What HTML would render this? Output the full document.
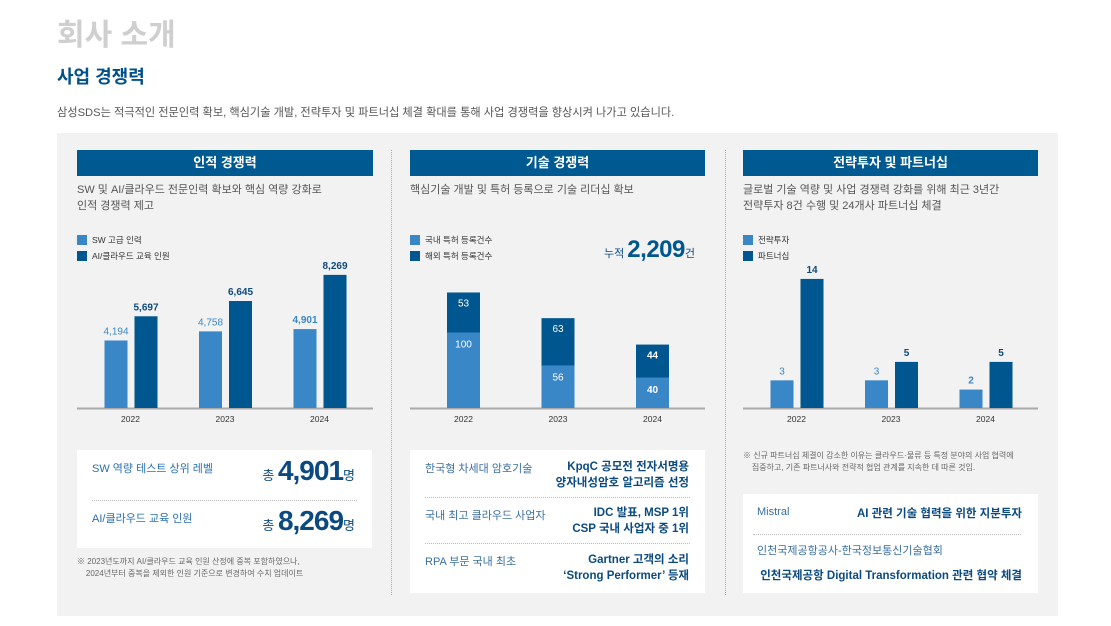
<!DOCTYPE html>
<html lang="ko"><head><meta charset="utf-8">
<style>
body{margin:0;width:1111px;height:626px;background:#fff;position:relative;overflow:hidden;font-family:"Liberation Sans","Noto Sans CJK KR",sans-serif;}
.a{position:absolute;white-space:nowrap;}
.hdr{position:absolute;top:150px;height:26px;background:#005a92;color:#fff;font-weight:bold;font-size:13px;line-height:26px;text-align:center;}
.sub{font-size:11px;color:#555;line-height:16px;}
.lg{font-size:8.5px;color:#333;}
.sq{position:absolute;width:10px;height:10px;}
.box{position:absolute;background:#fff;}
.lbl{font-size:11px;color:#2a6fb0;}
.val{font-size:11.5px;color:#0b4a80;font-weight:bold;text-align:right;line-height:16px;}
.dot{position:absolute;height:0;border-top:1px dotted #bbb;}
.note{font-size:8px;color:#666;line-height:12px;}
</style></head><body>
<div class="a" style="left:57px;top:10px;font-size:30px;font-weight:bold;color:#cfcfcf;">회사 소개</div>
<div class="a" style="left:57px;top:63px;font-size:18px;font-weight:bold;color:#00508a;">사업 경쟁력</div>
<div class="a" style="left:57px;top:104px;font-size:11.2px;color:#555;">삼성SDS는 적극적인 전문인력 확보, 핵심기술 개발, 전략투자 및 파트너십 체결 확대를 통해 사업 경쟁력을 향상시켜 나가고 있습니다.</div>
<div class="a" style="left:57px;top:133px;width:1001px;height:483px;background:#f2f2f2;"></div>
<div class="a" style="left:391px;top:150px;height:445px;border-left:1px dotted #aaa;"></div>
<div class="a" style="left:725px;top:150px;height:445px;border-left:1px dotted #aaa;"></div>

<div class="hdr" style="left:77px;width:296px;">인적 경쟁력</div>
<div class="hdr" style="left:410px;width:295px;">기술 경쟁력</div>
<div class="hdr" style="left:743px;width:295px;">전략투자 및 파트너십</div>

<div class="a sub" style="left:77px;top:182px;">SW 및 AI/클라우드 전문인력 확보와 핵심 역량 강화로<br>인적 경쟁력 제고</div>
<div class="a sub" style="left:410px;top:182px;">핵심기술 개발 및 특허 등록으로 기술 리더십 확보</div>
<div class="a sub" style="left:743px;top:182px;">글로벌 기술 역량 및 사업 경쟁력 강화를 위해 최근 3년간<br>전략투자 8건 수행 및 24개사 파트너십 체결</div>

<div class="sq" style="left:77px;top:235px;background:#3a87c8"></div><div class="a lg" style="left:92px;top:234px;">SW 고급 인력</div>
<div class="sq" style="left:77px;top:251px;background:#00568f"></div><div class="a lg" style="left:92px;top:250px;">AI/클라우드 교육 인원</div>
<div class="sq" style="left:410px;top:235px;background:#3a87c8"></div><div class="a lg" style="left:425px;top:234px;">국내 특허 등록건수</div>
<div class="sq" style="left:410px;top:251px;background:#00568f"></div><div class="a lg" style="left:425px;top:250px;">해외 특허 등록건수</div>
<div class="sq" style="left:743px;top:235px;background:#3a87c8"></div><div class="a lg" style="left:758px;top:234px;">전략투자</div>
<div class="sq" style="left:743px;top:251px;background:#00568f"></div><div class="a lg" style="left:758px;top:250px;">파트너십</div>
<div class="a" style="left:604px;top:236px;color:#0b4a80;font-size:11px;">누적 <b style="font-size:24px;color:#00568f;letter-spacing:-0.5px;">2,209</b>건</div>

<svg id="charts" class="a" style="left:0;top:0" width="1111" height="626"></svg>

<div class="box" style="left:77px;top:450px;width:295px;height:98px;">
 <div class="a lbl" style="left:15px;top:10px;">SW 역량 테스트 상위 레벨</div>
 <div class="a" style="right:17px;top:5px;color:#0b4a80;font-size:13px;">총 <b style="font-size:28px;letter-spacing:-1px;">4,901</b>명</div>
 <div class="dot" style="left:15px;width:265px;top:50px;"></div>
 <div class="a lbl" style="left:15px;top:60px;">AI/클라우드 교육 인원</div>
 <div class="a" style="right:17px;top:55px;color:#0b4a80;font-size:13px;">총 <b style="font-size:28px;letter-spacing:-1px;">8,269</b>명</div>
</div>
<div class="a note" style="left:77px;top:556px;">※ 2023년도까지 AI/클라우드 교육 인원 산정에 중복 포함하였으나,<br>&nbsp;&nbsp;&nbsp;&nbsp;2024년부터 중복을 제외한 인원 기준으로 변경하여 수치 업데이트</div>

<div class="box" style="left:410px;top:450px;width:295px;height:143px;">
 <div class="a lbl" style="left:15px;top:10px;color:#3a6f9f">한국형 차세대 암호기술</div>
 <div class="a val" style="right:16px;top:9px;">KpqC 공모전 전자서명용<br>양자내성암호 알고리즘 선정</div>
 <div class="dot" style="left:15px;width:265px;top:47px;"></div>
 <div class="a lbl" style="left:15px;top:57px;color:#3a6f9f">국내 최고 클라우드 사업자</div>
 <div class="a val" style="right:16px;top:55px;">IDC 발표, MSP 1위<br>CSP 국내 사업자 중 1위</div>
 <div class="dot" style="left:15px;width:265px;top:93px;"></div>
 <div class="a lbl" style="left:15px;top:103px;color:#3a6f9f">RPA 부문 국내 최초</div>
 <div class="a val" style="right:16px;top:102px;">Gartner 고객의 소리<br>‘Strong Performer’ 등재</div>
</div>

<div class="a note" style="left:743px;top:450px;">※ 신규 파트너십 체결이 감소한 이유는 클라우드·물류 등 특정 분야의 사업 협력에<br>&nbsp;&nbsp;&nbsp;&nbsp;집중하고, 기존 파트너사와 전략적 협업 관계를 지속한 데 따른 것임.</div>
<div class="box" style="left:743px;top:494px;width:295px;height:99px;">
 <div class="a lbl" style="left:14px;top:12px;color:#3a6f9f">Mistral</div>
 <div class="a val" style="right:16px;top:12px;">AI 관련 기술 협력을 위한 지분투자</div>
 <div class="dot" style="left:10px;width:268px;top:40px;"></div>
 <div class="a lbl" style="left:14px;top:48px;color:#3a6f9f">인천국제공항공사-한국정보통신기술협회</div>
 <div class="a val" style="right:16px;top:74px;">인천국제공항 Digital Transformation 관련 협약 체결</div>
</div>

<script>
const years = ['2022','2023','2024'];
const swValues = [4194, 4758, 4901];
const aiValues = [5697, 6645, 8269];
const domesticPatents = [100, 56, 40];
const overseasPatents = [53, 63, 44];
const investCounts = [3, 3, 2];
const partnerCounts = [14, 5, 5];

const LIGHT='#3a87c8', DARK='#00568f', BASE=408;
const svg=document.getElementById('charts');
const NS='http://www.w3.org/2000/svg';
function mk(tag,attrs){const e=document.createElementNS(NS,tag);for(const k in attrs)e.setAttribute(k,attrs[k]);svg.appendChild(e);return e;}
function txt(x,y,s,fill,size,weight){const t=mk('text',{x:x,y:y,'text-anchor':'middle',fill:fill,'font-size':size,'font-weight':weight||'normal','font-family':'Liberation Sans, sans-serif'});t.textContent=s;return t;}
function center(x0,i){return x0+53.5+94.5*i;}

function groupedChart(name,x0,x1,a,b,scale,fmt){
  const ax=mk('line',{x1:x0,x2:x1,y1:BASE+0.5,y2:BASE+0.5,stroke:'#aaa','stroke-width':2});
  
  
  years.forEach((yr,i)=>{
    const c=center(x0,i);
    const ha=a[i]*scale, hb=b[i]*scale;
    const r1=mk('rect',{x:c-26,y:BASE-ha,width:23,height:ha,fill:LIGHT});
    
    
    const r2=mk('rect',{x:c+4,y:BASE-hb,width:23,height:hb,fill:DARK});
    
    
    const last=i===2;
    txt(c-14.5,BASE-ha-6,fmt(a[i]),LIGHT,10,last?'bold':'normal');
    txt(c+15.5,BASE-hb-6,fmt(b[i]),'#0b4a80',10,'bold');
    txt(c,BASE+14,yr,'#333',8.5);
  });
}
function stackedChart(name,x0,x1,a,b,scale){
  const ax=mk('line',{x1:x0,x2:x1,y1:BASE+0.5,y2:BASE+0.5,stroke:'#aaa','stroke-width':2});
  
  
  years.forEach((yr,i)=>{
    const c=center(x0,i);
    const ha=a[i]*scale, hb=b[i]*scale;
    const r1=mk('rect',{x:c-16.5,y:BASE-ha,width:33,height:ha,fill:LIGHT});
    
    
    const r2=mk('rect',{x:c-16.5,y:BASE-ha-hb,width:33,height:hb,fill:DARK});
    
    
    const w=i===2?'bold':'normal';
    txt(c,BASE-ha+15,String(a[i]),'#fff',10,w);
    txt(c,BASE-ha-hb+14,String(b[i]),'#fff',10,w);
    txt(c,BASE+14,yr,'#333',8.5);
  });
}
const comma=v=>v.toLocaleString('en-US');
groupedChart('human',77,373,swValues,aiValues,0.0161,comma);
stackedChart('tech',410,705,domesticPatents,overseasPatents,0.755);
groupedChart('strategy',743,1038,investCounts,partnerCounts,9.22,String);
</script>
</body></html>
